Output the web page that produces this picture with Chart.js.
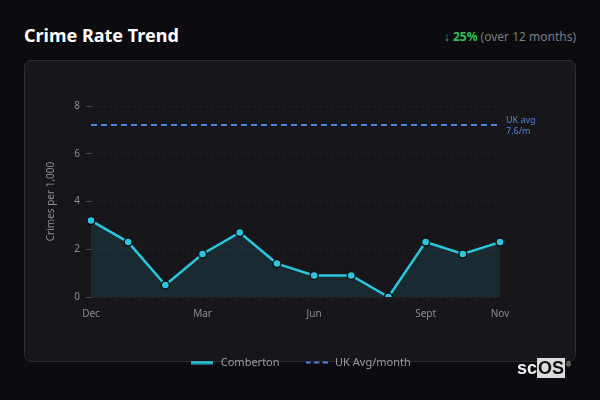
<!DOCTYPE html>
<html>
<head>
<meta charset="utf-8">
<script src="https://cdn.jsdelivr.net/npm/chart.js@4.4.1/dist/chart.umd.min.js"></script>
<style>
  html, body { margin:0; padding:0; }
  body { width:600px; height:400px; background:#0c0c10; position:relative; overflow:hidden; font-family:"Noto Sans", "Open Sans", sans-serif; }
  #title { position:absolute; left:24px; top:23px; color:#ffffff; font-size:18px; font-weight:700; letter-spacing:0; }
  #change { position:absolute; right:24px; top:28px; font-size:12px; color:#7b7b82; }
  #change b { color:#2fbf5a; font-weight:700; }
  #card { position:absolute; left:24px; top:60px; width:550px; height:300px; background:#17171b; border:1px solid #2c2c32; border-radius:7px; }
  #wrap { position:absolute; left:24px; top:60px; width:552px; height:318px; }
  #logo { position:absolute; left:517px; top:358px; height:20px; font-size:18px; font-weight:700; line-height:20px; color:#f2f2f2; font-family:"Liberation Sans", Arial, sans-serif; }
  #logo .os { background:#dcdcdc; color:#111; padding:0 1px; }
  #logo sup { font-size:7px; color:#bbb; position:absolute; right:-6px; top:-3px; }
</style>
</head>
<body>
<div id="title">Crime Rate Trend</div>
<div id="change"><b>↓ 25%</b> (over 12 months)</div>
<div id="card"></div>
<div id="wrap"><canvas id="c" width="552" height="318"></canvas></div>
<div id="logo">sc<span class="os">OS</span><sup>®</sup></div>
<script>
const months = ["Dec","Jan","Feb","Mar","Apr","May","Jun","Jul","Aug","Sept","Oct","Nov"];
const shownTicks = ["Dec","Mar","Jun","Sept","Nov"];
const comberton = [3.2, 2.3, 0.5, 1.8, 2.7, 1.4, 0.9, 0.9, 0.0, 2.3, 1.8, 2.3];
const ukAvgValue = 7.2;
const ukAvg = months.map(() => ukAvgValue);
const ukAvgLabel = ["UK avg", "7.6/m"];
const yTicks = [0, 2, 4, 6, 8];

function legendIcon(color, width, dash) {
  const cv = document.createElement('canvas');
  cv.width = 22; cv.height = 4;
  const g = cv.getContext('2d');
  g.strokeStyle = color;
  g.lineWidth = width;
  g.setLineDash(dash || []);
  g.beginPath();
  g.moveTo(0, 2); g.lineTo(22, 2);
  g.stroke();
  return cv;
}

const annot = {
  id: 'annot',
  afterDatasetsDraw(chart) {
    const {ctx, scales} = chart;
    const x = scales.x.right + 6;
    const y = scales.y.getPixelForValue(ukAvgValue);
    ctx.save();
    ctx.fillStyle = '#4f82d8';
    ctx.font = '9px "Noto Sans", sans-serif';
    ctx.textBaseline = 'middle';
    ctx.textAlign = 'left';
    ctx.fillText(ukAvgLabel[0], x, y - 5);
    ctx.fillText(ukAvgLabel[1], x, y + 6);
    ctx.restore();
  }
};

new Chart(document.getElementById('c'), {
  type: 'line',
  data: {
    labels: months,
    datasets: [
      {
        label: 'Comberton',
        data: comberton,
        borderColor: '#2ac6de',
        backgroundColor: 'rgba(42,198,222,0.11)',
        fill: 'origin',
        borderWidth: 2.5,
        tension: 0,
        pointRadius: 4,
        pointHoverRadius: 4,
        pointBackgroundColor: '#2ac6de',
        pointBorderColor: '#0f1114',
        pointBorderWidth: 1.5
      },
      {
        label: 'UK Avg/month',
        data: ukAvg,
        borderColor: '#4a86e8',
        borderDash: [6, 4],
        borderWidth: 2,
        pointRadius: 0,
        fill: false
      }
    ]
  },
  options: {
    responsive: false,
    animation: false,
    layout: { padding: { left: 10, right: 10, top: 46, bottom: 0 } },
    plugins: {
      legend: {
        position: 'bottom',
        labels: {
          usePointStyle: true,
          pointStyleWidth: 26,
          color: '#9a9aa1',
          font: { size: 11, family: '"Noto Sans", sans-serif' },
          padding: 24,
          generateLabels(chart) {
            return chart.data.datasets.map((ds, i) => ({
              text: ds.label,
              fillStyle: ds.borderColor,
              strokeStyle: ds.borderColor,
              lineWidth: 0,
              pointStyle: legendIcon(ds.borderColor, i === 0 ? 3 : 2, i === 0 ? [] : [5, 3.5]),
              hidden: false,
              datasetIndex: i,
              fontColor: '#9a9aa1'
            }));
          }
        }
      },
      tooltip: { enabled: false }
    },
    scales: {
      x: {
        grid: { display: false, drawTicks: false },
        border: { display: false },
        afterFit(scale) { scale.height += 2; },
        ticks: {
          autoSkip: false,
          maxRotation: 0,
          color: '#8c8c93',
          font: { size: 10, family: '"Noto Sans", sans-serif' },
          padding: 11,
          callback: function(v, i) { const l = months[i]; return shownTicks.includes(l) ? l : ''; }
        }
      },
      y: {
        min: 0, max: 8,
        afterBuildTicks(scale) { scale.ticks = yTicks.map(v => ({ value: v })); },
        afterFit(scale) { scale.width = 57; },
        title: { display: true, text: 'Crimes per 1,000', color: '#8c8c93', font: { size: 10, family: '"Noto Sans", sans-serif' }, padding: { top: 11, bottom: 0 } },
        grid: { color: 'rgba(255,255,255,0.06)', tickColor: '#4a4a50', tickLength: 5, lineWidth: 1 },
        border: { display: false, dash: [3, 3] },
        ticks: { color: '#8c8c93', font: { size: 10, family: '"Noto Sans", sans-serif' }, padding: 6 }
      },
      yr: {
        position: 'right',
        display: true,
        afterFit(scale) { scale.width = 66; },
        grid: { display: false, drawTicks: false },
        border: { display: false },
        ticks: { display: false }
      }
    }
  },
  plugins: [annot]
});
</script>
</body>
</html>
